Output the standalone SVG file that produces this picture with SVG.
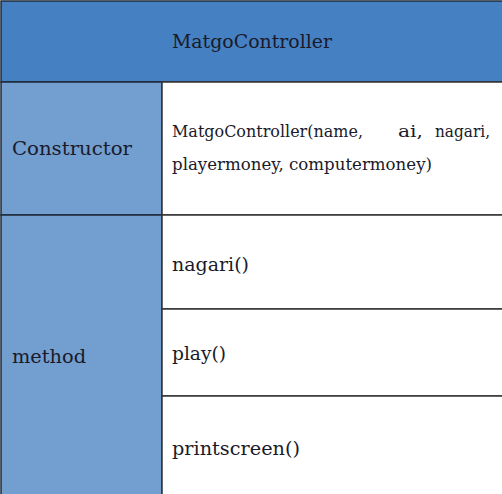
<svg xmlns="http://www.w3.org/2000/svg" width="502" height="494" viewBox="0 0 502 494">
<style>
.hdr{fill:#4580C2;stroke:#1f2a3a;stroke-width:1.5}
.lab{fill:#729FD0;stroke:#1f2a3a;stroke-width:1.5}
.cell{fill:#ffffff;stroke:#333;stroke-width:1.5}
text{font-family:"DejaVu Serif","Liberation Serif",serif;fill:#1a1a2a;font-size:18px}
.s{font-size:17px}
</style>
<rect width="502" height="494" fill="#ffffff"/>
<g id="header">
<rect class="hdr" x="1" y="1" width="502" height="81"/>
<text x="252" y="48" text-anchor="middle" textLength="160" lengthAdjust="spacingAndGlyphs">MatgoController</text>
</g>
<g id="constructor-label">
<rect class="lab" x="1" y="82" width="161" height="133"/>
<text x="12" y="155" textLength="120" lengthAdjust="spacingAndGlyphs">Constructor</text>
</g>
<g id="constructor-value">
<rect class="cell" x="162" y="82" width="341" height="133"/>
<text class="s" x="172" y="137" textLength="191" lengthAdjust="spacingAndGlyphs">MatgoController(name,</text>
<text class="s" x="398" y="137" textLength="25" lengthAdjust="spacingAndGlyphs">ai,</text>
<text class="s" x="435" y="137" textLength="55" lengthAdjust="spacingAndGlyphs">nagari,</text>
<text class="s" x="172" y="170" textLength="260" lengthAdjust="spacingAndGlyphs">playermoney, computermoney)</text>
</g>
<g id="method-label">
<rect class="lab" x="1" y="215" width="161" height="281"/>
<text x="12" y="363" textLength="74" lengthAdjust="spacingAndGlyphs">method</text>
</g>
<g id="method-nagari">
<rect class="cell" x="162" y="215" width="341" height="94"/>
<text x="172" y="271" textLength="77" lengthAdjust="spacingAndGlyphs">nagari()</text>
</g>
<g id="method-play">
<rect class="cell" x="162" y="309" width="341" height="87"/>
<text x="172" y="360" textLength="54" lengthAdjust="spacingAndGlyphs">play()</text>
</g>
<g id="method-printscreen">
<rect class="cell" x="162" y="396" width="341" height="100"/>
<text x="172" y="455" textLength="128" lengthAdjust="spacingAndGlyphs">printscreen()</text>
</g>
<g id="connectors"></g>
</svg>
